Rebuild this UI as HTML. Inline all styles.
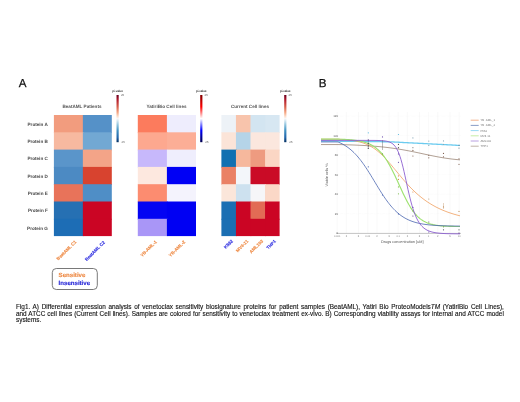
<!DOCTYPE html>
<html><head><meta charset="utf-8"><style>
html,body{margin:0;padding:0;background:#fff}
body{width:520px;height:402px;overflow:hidden;position:relative;font-family:"Liberation Sans",sans-serif}
svg text{font-family:"Liberation Sans",sans-serif;text-rendering:geometricPrecision}
svg,.cap{will-change:transform}
.cap{position:absolute;left:16px;top:303.7px;width:487.8px;font-size:6.4px;line-height:6.6px;color:#111;-webkit-text-stroke:0.12px #111}
.cap div{white-space:nowrap}
.cap .j{text-align:justify;text-align-last:justify;white-space:normal}
</style></head><body>
<svg width="520" height="402" viewBox="0 0 520 402" style="position:absolute;left:0;top:0">
<defs>
<linearGradient id="rdbu" x1="0" y1="0" x2="0" y2="1"><stop offset="0" stop-color="#67001f"/><stop offset="0.1" stop-color="#b2182b"/><stop offset="0.25" stop-color="#d6604d"/><stop offset="0.37" stop-color="#f4a582"/><stop offset="0.45" stop-color="#fddbc7"/><stop offset="0.5" stop-color="#f7f7f7"/><stop offset="0.55" stop-color="#d1e5f0"/><stop offset="0.63" stop-color="#92c5de"/><stop offset="0.75" stop-color="#4393c3"/><stop offset="0.9" stop-color="#2166ac"/><stop offset="1" stop-color="#053061"/></linearGradient>
<linearGradient id="seis" x1="0" y1="0" x2="0" y2="1"><stop offset="0" stop-color="#800000"/><stop offset="0.25" stop-color="#ff0000"/><stop offset="0.5" stop-color="#ffffff"/><stop offset="0.75" stop-color="#0000ff"/><stop offset="1" stop-color="#00004c"/></linearGradient>
</defs>
<text x="18.7" y="87.0" font-size="11.6" fill="#111" stroke="#111" stroke-width="0.25">A</text>
<text x="318.7" y="87.0" font-size="11.6" fill="#111" stroke="#111" stroke-width="0.25">B</text>
<rect x="53.90" y="115.00" width="29.75" height="18.10" fill="#f29c7e"/>
<rect x="82.85" y="115.00" width="28.95" height="18.10" fill="#5591c8"/>
<rect x="53.90" y="132.30" width="29.75" height="18.10" fill="#f7b9a0"/>
<rect x="82.85" y="132.30" width="28.95" height="18.10" fill="#72a8d3"/>
<rect x="53.90" y="149.60" width="29.75" height="18.10" fill="#5a95ca"/>
<rect x="82.85" y="149.60" width="28.95" height="18.10" fill="#f3a488"/>
<rect x="53.90" y="166.90" width="29.75" height="18.10" fill="#4c8ac3"/>
<rect x="82.85" y="166.90" width="28.95" height="18.10" fill="#d8432f"/>
<rect x="53.90" y="184.20" width="29.75" height="18.10" fill="#e8735a"/>
<rect x="82.85" y="184.20" width="28.95" height="18.10" fill="#4f8ec6"/>
<rect x="53.90" y="201.50" width="29.75" height="18.10" fill="#2670b3"/>
<rect x="82.85" y="201.50" width="28.95" height="18.10" fill="#cb0524"/>
<rect x="53.90" y="218.80" width="29.75" height="17.30" fill="#1d6db5"/>
<rect x="82.85" y="218.80" width="28.95" height="17.30" fill="#cb0524"/>
<rect x="137.80" y="115.00" width="29.90" height="18.10" fill="#fc7b5d"/>
<rect x="166.90" y="115.00" width="29.10" height="18.10" fill="#eeedfd"/>
<rect x="137.80" y="132.30" width="29.90" height="18.10" fill="#fda88f"/>
<rect x="166.90" y="132.30" width="29.10" height="18.10" fill="#fcae96"/>
<rect x="137.80" y="149.60" width="29.90" height="18.10" fill="#c7b8fb"/>
<rect x="166.90" y="149.60" width="29.10" height="18.10" fill="#efeefd"/>
<rect x="137.80" y="166.90" width="29.90" height="18.10" fill="#fde8df"/>
<rect x="166.90" y="166.90" width="29.10" height="18.10" fill="#0000f5"/>
<rect x="137.80" y="184.20" width="29.90" height="18.10" fill="#fc8c70"/>
<rect x="166.90" y="184.20" width="29.10" height="18.10" fill="#f4f3fd"/>
<rect x="137.80" y="201.50" width="29.90" height="18.10" fill="#0404f3"/>
<rect x="166.90" y="201.50" width="29.10" height="18.10" fill="#0000f3"/>
<rect x="137.80" y="218.80" width="29.90" height="17.30" fill="#a996f7"/>
<rect x="166.90" y="218.80" width="29.10" height="17.30" fill="#0000f3"/>
<rect x="221.40" y="115.00" width="15.35" height="18.10" fill="#edf2f7"/>
<rect x="235.95" y="115.00" width="15.35" height="18.10" fill="#f8c4ac"/>
<rect x="250.50" y="115.00" width="15.35" height="18.10" fill="#d3e5f1"/>
<rect x="265.05" y="115.00" width="14.55" height="18.10" fill="#d7e7f2"/>
<rect x="221.40" y="132.30" width="15.35" height="18.10" fill="#fbe4d8"/>
<rect x="235.95" y="132.30" width="15.35" height="18.10" fill="#b5d4e8"/>
<rect x="250.50" y="132.30" width="15.35" height="18.10" fill="#fbe7de"/>
<rect x="265.05" y="132.30" width="14.55" height="18.10" fill="#fbe7de"/>
<rect x="221.40" y="149.60" width="15.35" height="18.10" fill="#1170b1"/>
<rect x="235.95" y="149.60" width="15.35" height="18.10" fill="#f6b89d"/>
<rect x="250.50" y="149.60" width="15.35" height="18.10" fill="#ee9b80"/>
<rect x="265.05" y="149.60" width="14.55" height="18.10" fill="#fbd6c4"/>
<rect x="221.40" y="166.90" width="15.35" height="18.10" fill="#ea8165"/>
<rect x="235.95" y="166.90" width="15.35" height="18.10" fill="#f3f6fa"/>
<rect x="250.50" y="166.90" width="15.35" height="18.10" fill="#ca0b26"/>
<rect x="265.05" y="166.90" width="14.55" height="18.10" fill="#ca0b26"/>
<rect x="221.40" y="184.20" width="15.35" height="18.10" fill="#fbe6da"/>
<rect x="235.95" y="184.20" width="15.35" height="18.10" fill="#cde1ef"/>
<rect x="250.50" y="184.20" width="15.35" height="18.10" fill="#f6f6f8"/>
<rect x="265.05" y="184.20" width="14.55" height="18.10" fill="#fbd8c7"/>
<rect x="221.40" y="201.50" width="15.35" height="18.10" fill="#1b6fb3"/>
<rect x="235.95" y="201.50" width="15.35" height="18.10" fill="#cb0524"/>
<rect x="250.50" y="201.50" width="15.35" height="18.10" fill="#e26b55"/>
<rect x="265.05" y="201.50" width="14.55" height="18.10" fill="#cb0524"/>
<rect x="221.40" y="218.80" width="15.35" height="17.30" fill="#1b6fb3"/>
<rect x="235.95" y="218.80" width="15.35" height="17.30" fill="#cb0524"/>
<rect x="250.50" y="218.80" width="15.35" height="17.30" fill="#cb0524"/>
<rect x="265.05" y="218.80" width="14.55" height="17.30" fill="#cb0524"/>
<g font-weight="bold" font-size="4.6" fill="#555" text-anchor="middle">
<text x="82" y="107.6">BeatAML Patients</text>
<text x="166.5" y="107.6">YatiriBio Cell lines</text>
<text x="250" y="107.6">Current Cell lines</text>
</g>
<g font-weight="bold" font-size="4.6" fill="#484848" text-anchor="end">
<text x="47.8" y="125.75">Protein A</text>
<text x="47.8" y="143.05">Protein B</text>
<text x="47.8" y="160.35">Protein C</text>
<text x="47.8" y="177.65">Protein D</text>
<text x="47.8" y="194.95">Protein E</text>
<text x="47.8" y="212.25">Protein F</text>
<text x="47.8" y="229.55">Protein G</text>
</g>
<rect x="116.5" y="95" width="2.2" height="47.2" fill="url(#rdbu)"/>
<text x="117.6" y="91.6" font-size="3" fill="#333" stroke="#333" stroke-width="0.08" text-anchor="middle">pi-value</text>
<text x="120.9" y="95.8" font-size="2.8" fill="#444">25</text>
<text x="120.7" y="143.4" font-size="2.8" fill="#444">-25</text>
<rect x="200.2" y="95" width="2.2" height="47.2" fill="url(#seis)"/>
<text x="201.29999999999998" y="91.6" font-size="3" fill="#333" stroke="#333" stroke-width="0.08" text-anchor="middle">pi-value</text>
<text x="204.6" y="95.8" font-size="2.8" fill="#444">25</text>
<text x="204.39999999999998" y="143.4" font-size="2.8" fill="#444">-25</text>
<rect x="284.2" y="95" width="2.2" height="47.2" fill="url(#rdbu)"/>
<text x="285.3" y="91.6" font-size="3" fill="#333" stroke="#333" stroke-width="0.08" text-anchor="middle">pi-value</text>
<text x="288.59999999999997" y="95.8" font-size="2.8" fill="#444">25</text>
<text x="288.4" y="143.4" font-size="2.8" fill="#444">-25</text>
<text x="76.80" y="242.20" transform="rotate(-45 76.80 242.20)" font-size="4.45" font-weight="bold" fill="#ee8a45" stroke="#ee8a45" stroke-width="0.12" text-anchor="end">BeatAML C1</text>
<text x="105.20" y="242.80" transform="rotate(-45 105.20 242.80)" font-size="4.45" font-weight="bold" fill="#3030e0" stroke="#3030e0" stroke-width="0.12" text-anchor="end">BeatAML C2</text>
<text x="157.20" y="242.20" transform="rotate(-45 157.20 242.20)" font-size="4.45" font-weight="bold" fill="#ee8a45" stroke="#ee8a45" stroke-width="0.12" text-anchor="end">YB-AML-1</text>
<text x="185.60" y="242.20" transform="rotate(-45 185.60 242.20)" font-size="4.45" font-weight="bold" fill="#ee8a45" stroke="#ee8a45" stroke-width="0.12" text-anchor="end">YB-AML-2</text>
<text x="233.20" y="241.60" transform="rotate(-45 233.20 241.60)" font-size="4.45" font-weight="bold" fill="#3030e0" stroke="#3030e0" stroke-width="0.12" text-anchor="end">K562</text>
<text x="248.70" y="241.60" transform="rotate(-45 248.70 241.60)" font-size="4.45" font-weight="bold" fill="#ee8a45" stroke="#ee8a45" stroke-width="0.12" text-anchor="end">MV4-11</text>
<text x="263.40" y="241.60" transform="rotate(-45 263.40 241.60)" font-size="4.45" font-weight="bold" fill="#ee8a45" stroke="#ee8a45" stroke-width="0.12" text-anchor="end">AML193</text>
<text x="276.30" y="241.60" transform="rotate(-45 276.30 241.60)" font-size="4.45" font-weight="bold" fill="#3030e0" stroke="#3030e0" stroke-width="0.12" text-anchor="end">THP1</text>
<rect x="52.3" y="268.5" width="45" height="21" rx="4" ry="4" fill="#fff" stroke="#6a6a6a" stroke-width="0.9"/>
<text x="58.6" y="276.8" font-size="6.1" font-weight="bold" fill="#ee8a45" stroke="#ee8a45" stroke-width="0.15">Sensitive</text>
<text x="58.6" y="285.3" font-size="6.1" font-weight="bold" fill="#2a2ad8" stroke="#2a2ad8" stroke-width="0.15">Insensitive</text>
<line x1="340" x2="461" y1="213.75" y2="213.75" stroke="#f2f2f2" stroke-width="0.4" stroke-dasharray="0.6 0.6"/>
<line x1="340" x2="461" y1="194.20" y2="194.20" stroke="#f2f2f2" stroke-width="0.4" stroke-dasharray="0.6 0.6"/>
<line x1="340" x2="461" y1="174.65" y2="174.65" stroke="#f2f2f2" stroke-width="0.4" stroke-dasharray="0.6 0.6"/>
<line x1="340" x2="461" y1="155.10" y2="155.10" stroke="#f2f2f2" stroke-width="0.4" stroke-dasharray="0.6 0.6"/>
<line x1="340" x2="461" y1="135.55" y2="135.55" stroke="#f2f2f2" stroke-width="0.4" stroke-dasharray="0.6 0.6"/>
<line x1="340" x2="461" y1="116.00" y2="116.00" stroke="#f2f2f2" stroke-width="0.4" stroke-dasharray="0.6 0.6"/>
<line x1="337.20" x2="337.20" y1="112" y2="233.3" stroke="#f0f0f0" stroke-width="0.4"/>
<line x1="346.38" x2="346.38" y1="112" y2="233.3" stroke="#f0f0f0" stroke-width="0.4"/>
<line x1="358.52" x2="358.52" y1="112" y2="233.3" stroke="#f0f0f0" stroke-width="0.4"/>
<line x1="367.80" x2="367.80" y1="112" y2="233.3" stroke="#f0f0f0" stroke-width="0.4"/>
<line x1="376.98" x2="376.98" y1="112" y2="233.3" stroke="#f0f0f0" stroke-width="0.4"/>
<line x1="389.12" x2="389.12" y1="112" y2="233.3" stroke="#f0f0f0" stroke-width="0.4"/>
<line x1="398.20" x2="398.20" y1="112" y2="233.3" stroke="#f0f0f0" stroke-width="0.4"/>
<line x1="407.38" x2="407.38" y1="112" y2="233.3" stroke="#f0f0f0" stroke-width="0.4"/>
<line x1="419.52" x2="419.52" y1="112" y2="233.3" stroke="#f0f0f0" stroke-width="0.4"/>
<line x1="428.60" x2="428.60" y1="112" y2="233.3" stroke="#f0f0f0" stroke-width="0.4"/>
<line x1="437.78" x2="437.78" y1="112" y2="233.3" stroke="#f0f0f0" stroke-width="0.4"/>
<line x1="449.92" x2="449.92" y1="112" y2="233.3" stroke="#f0f0f0" stroke-width="0.4"/>
<line x1="459.20" x2="459.20" y1="112" y2="233.3" stroke="#f0f0f0" stroke-width="0.4"/>
<line x1="336.4" x2="461" y1="233.4" y2="233.4" stroke="#888" stroke-width="0.5"/>
<g font-size="3" fill="#666" text-anchor="end">
<text x="338.2" y="234.40">0</text>
<text x="338.2" y="214.85">20</text>
<text x="338.2" y="195.30">40</text>
<text x="338.2" y="175.75">60</text>
<text x="338.2" y="156.20">80</text>
<text x="338.2" y="136.65">100</text>
<text x="338.2" y="117.10">120</text>
</g>
<g font-size="2.6" fill="#888" text-anchor="middle">
<text x="337.20" y="236.6">0.001</text>
<text x="346.38" y="236.6">2</text>
<text x="358.52" y="236.6">5</text>
<text x="367.80" y="236.6">0.01</text>
<text x="376.98" y="236.6">2</text>
<text x="389.12" y="236.6">5</text>
<text x="398.20" y="236.6">0.1</text>
<text x="407.38" y="236.6">2</text>
<text x="419.52" y="236.6">5</text>
<text x="428.60" y="236.6">1</text>
<text x="437.78" y="236.6">2</text>
<text x="449.92" y="236.6">5</text>
<text x="459.20" y="236.6">10</text>
</g>
<text x="402.3" y="243.2" font-size="3.8" fill="#555" text-anchor="middle">Drugs concentration [uM]</text>
<text x="0" y="0" transform="translate(327.5 175) rotate(-90)" font-size="3.7" fill="#555" text-anchor="middle">Viable cells %</text>
<path d="M321.00 144.56 L338.00 144.56 L339.00 144.58 L340.00 144.60 L341.00 144.62 L342.00 144.65 L343.00 144.67 L344.00 144.70 L345.00 144.73 L346.00 144.76 L347.00 144.79 L348.00 144.82 L349.00 144.85 L350.00 144.88 L351.00 144.92 L352.00 144.95 L353.00 144.99 L354.00 145.03 L355.00 145.07 L356.00 145.11 L357.00 145.15 L358.00 145.20 L359.00 145.25 L360.00 145.29 L361.00 145.34 L362.00 145.40 L363.00 145.45 L364.00 145.50 L365.00 145.56 L366.00 145.62 L367.00 145.68 L368.00 145.75 L369.00 145.81 L370.00 145.88 L371.00 145.95 L372.00 146.03 L373.00 146.10 L374.00 146.18 L375.00 146.26 L376.00 146.34 L377.00 146.43 L378.00 146.52 L379.00 146.61 L380.00 146.71 L381.00 146.81 L382.00 146.91 L383.00 147.01 L384.00 147.12 L385.00 147.23 L386.00 147.34 L387.00 147.46 L388.00 147.58 L389.00 147.70 L390.00 147.83 L391.00 147.96 L392.00 148.10 L393.00 148.24 L394.00 148.38 L395.00 148.52 L396.00 148.67 L397.00 148.82 L398.00 148.98 L399.00 149.14 L400.00 149.30 L401.00 149.47 L402.00 149.64 L403.00 149.81 L404.00 149.99 L405.00 150.17 L406.00 150.35 L407.00 150.54 L408.00 150.73 L409.00 150.92 L410.00 151.11 L411.00 151.31 L412.00 151.51 L413.00 151.71 L414.00 151.92 L415.00 152.12 L416.00 152.33 L417.00 152.54 L418.00 152.75 L419.00 152.97 L420.00 153.18 L421.00 153.39 L422.00 153.61 L423.00 153.82 L424.00 154.04 L425.00 154.25 L426.00 154.47 L427.00 154.68 L428.00 154.89 L429.00 155.10 L430.00 155.31 L431.00 155.52 L432.00 155.72 L433.00 155.93 L434.00 156.13 L435.00 156.32 L436.00 156.52 L437.00 156.71 L438.00 156.90 L439.00 157.08 L440.00 157.26 L441.00 157.43 L442.00 157.60 L443.00 157.77 L444.00 157.93 L445.00 158.09 L446.00 158.24 L447.00 158.39 L448.00 158.53 L449.00 158.67 L450.00 158.80 L451.00 158.93 L452.00 159.05 L453.00 159.17 L454.00 159.28 L455.00 159.39 L456.00 159.49 L457.00 159.59 L458.00 159.68 L459.00 159.77 L460.00 159.86" fill="none" stroke="#9d8878" stroke-width="0.8" stroke-linejoin="round"/>
<path d="M321.00 141.00 L338.00 141.20 L339.00 141.22 L340.00 141.23 L341.00 141.24 L342.00 141.25 L343.00 141.26 L344.00 141.28 L345.00 141.29 L346.00 141.30 L347.00 141.31 L348.00 141.32 L349.00 141.34 L350.00 141.35 L351.00 141.36 L352.00 141.37 L353.00 141.38 L354.00 141.40 L355.00 141.41 L356.00 141.42 L357.00 141.43 L358.00 141.44 L359.00 141.46 L360.00 141.47 L361.00 141.48 L362.00 141.49 L363.00 141.50 L364.00 141.52 L365.00 141.53 L366.00 141.54 L367.00 141.55 L368.00 141.56 L369.00 141.58 L370.00 141.59 L371.00 141.60 L372.00 141.61 L373.00 141.62 L374.00 141.64 L375.00 141.65 L376.00 141.66 L377.00 141.67 L378.00 141.68 L379.00 141.70 L380.00 141.71 L381.00 141.72 L382.00 141.73 L383.00 141.74 L384.00 141.76 L385.00 141.77 L386.00 141.78 L387.00 141.79 L388.00 141.80 L389.00 141.82 L390.00 141.80 L391.00 141.85 L392.00 141.90 L393.00 141.96 L394.00 142.01 L395.00 142.06 L396.00 142.11 L397.00 142.16 L398.00 142.22 L399.00 142.27 L400.00 142.32 L401.00 142.37 L402.00 142.42 L403.00 142.48 L404.00 142.53 L405.00 142.58 L406.00 142.63 L407.00 142.68 L408.00 142.74 L409.00 142.79 L410.00 142.84 L411.00 142.89 L412.00 142.94 L413.00 143.00 L414.00 143.05 L415.00 143.10 L416.00 143.15 L417.00 143.20 L418.00 143.26 L419.00 143.31 L420.00 143.36 L421.00 143.41 L422.00 143.46 L423.00 143.52 L424.00 143.57 L425.00 143.62 L426.00 143.67 L427.00 143.72 L428.00 143.78 L429.00 143.83 L430.00 143.88 L431.00 143.93 L432.00 143.98 L433.00 144.04 L434.00 144.09 L435.00 144.14 L436.00 144.19 L437.00 144.24 L438.00 144.30 L439.00 144.35 L440.00 144.40 L441.00 144.45 L442.00 144.50 L443.00 144.56 L444.00 144.61 L445.00 144.66 L446.00 144.71 L447.00 144.76 L448.00 144.82 L449.00 144.87 L450.00 144.92 L451.00 144.97 L452.00 145.02 L453.00 145.08 L454.00 145.13 L455.00 145.18 L456.00 145.23 L457.00 145.28 L458.00 145.34 L459.00 145.39 L460.00 145.44" fill="none" stroke="#6ccbef" stroke-width="1.3" stroke-linejoin="round"/>
<path d="M321.00 139.23 L338.00 139.23 L339.00 139.28 L340.00 139.33 L341.00 139.38 L342.00 139.45 L343.00 139.51 L344.00 139.58 L345.00 139.66 L346.00 139.75 L347.00 139.84 L348.00 139.94 L349.00 140.05 L350.00 140.16 L351.00 140.29 L352.00 140.43 L353.00 140.58 L354.00 140.74 L355.00 140.92 L356.00 141.11 L357.00 141.32 L358.00 141.54 L359.00 141.78 L360.00 142.04 L361.00 142.32 L362.00 142.62 L363.00 142.95 L364.00 143.30 L365.00 143.67 L366.00 144.07 L367.00 144.50 L368.00 144.96 L369.00 145.45 L370.00 145.97 L371.00 146.52 L372.00 147.11 L373.00 147.73 L374.00 148.38 L375.00 149.08 L376.00 149.81 L377.00 150.58 L378.00 151.38 L379.00 152.22 L380.00 153.09 L381.00 154.01 L382.00 154.95 L383.00 155.93 L384.00 156.94 L385.00 157.98 L386.00 159.05 L387.00 160.15 L388.00 161.27 L389.00 162.41 L390.00 163.57 L391.00 164.75 L392.00 165.94 L393.00 167.14 L394.00 168.35 L395.00 169.57 L396.00 170.79 L397.00 172.01 L398.00 173.23 L399.00 174.44 L400.00 175.65 L401.00 176.85 L402.00 178.04 L403.00 179.22 L404.00 180.38 L405.00 181.53 L406.00 182.66 L407.00 183.77 L408.00 184.87 L409.00 185.94 L410.00 187.00 L411.00 188.04 L412.00 189.05 L413.00 190.04 L414.00 191.01 L415.00 191.96 L416.00 192.88 L417.00 193.79 L418.00 194.67 L419.00 195.53 L420.00 196.36 L421.00 197.18 L422.00 197.97 L423.00 198.74 L424.00 199.49 L425.00 200.22 L426.00 200.93 L427.00 201.62 L428.00 202.29 L429.00 202.94 L430.00 203.57 L431.00 204.19 L432.00 204.78 L433.00 205.36 L434.00 205.92 L435.00 206.47 L436.00 207.00 L437.00 207.51 L438.00 208.01 L439.00 208.49 L440.00 208.96 L441.00 209.41 L442.00 209.85 L443.00 210.28 L444.00 210.69 L445.00 211.09 L446.00 211.48 L447.00 211.86 L448.00 212.22 L449.00 212.58 L450.00 212.92 L451.00 213.25 L452.00 213.57 L453.00 213.89 L454.00 214.19 L455.00 214.48 L456.00 214.77 L457.00 215.04 L458.00 215.31 L459.00 215.57 L460.00 215.82" fill="none" stroke="#f0a060" stroke-width="0.8" stroke-linejoin="round"/>
<path d="M321.00 139.15 L338.00 139.15 L339.00 139.18 L340.00 139.21 L341.00 139.24 L342.00 139.28 L343.00 139.32 L344.00 139.37 L345.00 139.42 L346.00 139.47 L347.00 139.53 L348.00 139.59 L349.00 139.66 L350.00 139.74 L351.00 139.83 L352.00 139.92 L353.00 140.02 L354.00 140.14 L355.00 140.26 L356.00 140.39 L357.00 140.54 L358.00 140.70 L359.00 140.88 L360.00 141.07 L361.00 141.29 L362.00 141.52 L363.00 141.77 L364.00 142.05 L365.00 142.35 L366.00 142.68 L367.00 143.03 L368.00 143.42 L369.00 143.85 L370.00 144.31 L371.00 144.81 L372.00 145.36 L373.00 145.95 L374.00 146.59 L375.00 147.28 L376.00 148.03 L377.00 148.84 L378.00 149.71 L379.00 150.64 L380.00 151.64 L381.00 152.72 L382.00 153.87 L383.00 155.10 L384.00 156.40 L385.00 157.78 L386.00 159.25 L387.00 160.79 L388.00 162.42 L389.00 164.12 L390.00 165.90 L391.00 167.75 L392.00 169.68 L393.00 171.66 L394.00 173.70 L395.00 175.79 L396.00 177.92 L397.00 180.08 L398.00 182.27 L399.00 184.46 L400.00 186.66 L401.00 188.84 L402.00 191.01 L403.00 193.14 L404.00 195.24 L405.00 197.28 L406.00 199.27 L407.00 201.18 L408.00 203.03 L409.00 204.80 L410.00 206.48 L411.00 208.08 L412.00 209.59 L413.00 211.01 L414.00 212.35 L415.00 213.59 L416.00 214.75 L417.00 215.83 L418.00 216.83 L419.00 217.75 L420.00 218.59 L421.00 219.36 L422.00 220.07 L423.00 220.72 L424.00 221.31 L425.00 221.84 L426.00 222.33 L427.00 222.77 L428.00 223.17 L429.00 223.53 L430.00 223.85 L431.00 224.14 L432.00 224.40 L433.00 224.64 L434.00 224.85 L435.00 225.04 L436.00 225.21 L437.00 225.36 L438.00 225.50 L439.00 225.62 L440.00 225.73 L441.00 225.83 L442.00 225.91 L443.00 225.99 L444.00 226.06 L445.00 226.12 L446.00 226.18 L447.00 226.23 L448.00 226.27 L449.00 226.31 L450.00 226.34 L451.00 226.37 L452.00 226.40 L453.00 226.42 L454.00 226.45 L455.00 226.47 L456.00 226.48 L457.00 226.50 L458.00 226.51 L459.00 226.52 L460.00 226.53" fill="none" stroke="#9ee270" stroke-width="1.15" stroke-linejoin="round"/>
<path d="M321.00 141.95 L338.00 141.95 L339.00 142.37 L340.00 142.82 L341.00 143.29 L342.00 143.80 L343.00 144.33 L344.00 144.90 L345.00 145.51 L346.00 146.15 L347.00 146.82 L348.00 147.53 L349.00 148.29 L350.00 149.08 L351.00 149.91 L352.00 150.79 L353.00 151.71 L354.00 152.68 L355.00 153.69 L356.00 154.75 L357.00 155.85 L358.00 157.00 L359.00 158.20 L360.00 159.44 L361.00 160.72 L362.00 162.05 L363.00 163.43 L364.00 164.84 L365.00 166.29 L366.00 167.78 L367.00 169.30 L368.00 170.85 L369.00 172.43 L370.00 174.03 L371.00 175.66 L372.00 177.30 L373.00 178.95 L374.00 180.61 L375.00 182.27 L376.00 183.94 L377.00 185.59 L378.00 187.24 L379.00 188.87 L380.00 190.49 L381.00 192.08 L382.00 193.64 L383.00 195.18 L384.00 196.68 L385.00 198.15 L386.00 199.57 L387.00 200.96 L388.00 202.30 L389.00 203.60 L390.00 204.86 L391.00 206.06 L392.00 207.22 L393.00 208.33 L394.00 209.39 L395.00 210.41 L396.00 211.37 L397.00 212.29 L398.00 213.17 L399.00 214.00 L400.00 214.78 L401.00 215.53 L402.00 216.23 L403.00 216.89 L404.00 217.51 L405.00 218.10 L406.00 218.65 L407.00 219.17 L408.00 219.65 L409.00 220.11 L410.00 220.54 L411.00 220.93 L412.00 221.31 L413.00 221.65 L414.00 221.98 L415.00 222.28 L416.00 222.57 L417.00 222.83 L418.00 223.07 L419.00 223.30 L420.00 223.52 L421.00 223.71 L422.00 223.90 L423.00 224.07 L424.00 224.23 L425.00 224.37 L426.00 224.51 L427.00 224.64 L428.00 224.76 L429.00 224.86 L430.00 224.97 L431.00 225.06 L432.00 225.15 L433.00 225.23 L434.00 225.30 L435.00 225.37 L436.00 225.43 L437.00 225.49 L438.00 225.55 L439.00 225.60 L440.00 225.65 L441.00 225.69 L442.00 225.73 L443.00 225.77 L444.00 225.80 L445.00 225.84 L446.00 225.86 L447.00 225.89 L448.00 225.92 L449.00 225.94 L450.00 225.96 L451.00 225.98 L452.00 226.00 L453.00 226.02 L454.00 226.03 L455.00 226.05 L456.00 226.06 L457.00 226.07 L458.00 226.09 L459.00 226.10 L460.00 226.11" fill="none" stroke="#4a66b0" stroke-width="0.8" stroke-linejoin="round"/>
<path d="M321.00 140.39 L338.00 140.39 L339.00 140.39 L340.00 140.39 L341.00 140.39 L342.00 140.39 L343.00 140.39 L344.00 140.39 L345.00 140.39 L346.00 140.39 L347.00 140.39 L348.00 140.39 L349.00 140.39 L350.00 140.39 L351.00 140.39 L352.00 140.39 L353.00 140.39 L354.00 140.39 L355.00 140.39 L356.00 140.39 L357.00 140.39 L358.00 140.39 L359.00 140.39 L360.00 140.39 L361.00 140.39 L362.00 140.39 L363.00 140.39 L364.00 140.39 L365.00 140.39 L366.00 140.40 L367.00 140.40 L368.00 140.40 L369.00 140.40 L370.00 140.41 L371.00 140.41 L372.00 140.42 L373.00 140.42 L374.00 140.43 L375.00 140.44 L376.00 140.46 L377.00 140.47 L378.00 140.50 L379.00 140.53 L380.00 140.56 L381.00 140.61 L382.00 140.67 L383.00 140.75 L384.00 140.84 L385.00 140.96 L386.00 141.11 L387.00 141.31 L388.00 141.55 L389.00 141.86 L390.00 142.25 L391.00 142.73 L392.00 143.34 L393.00 144.09 L394.00 145.02 L395.00 146.17 L396.00 147.57 L397.00 149.27 L398.00 151.30 L399.00 153.70 L400.00 156.49 L401.00 159.68 L402.00 163.26 L403.00 167.19 L404.00 171.42 L405.00 175.86 L406.00 180.43 L407.00 185.03 L408.00 189.55 L409.00 193.93 L410.00 198.09 L411.00 201.98 L412.00 205.57 L413.00 208.86 L414.00 211.83 L415.00 214.50 L416.00 216.88 L417.00 218.99 L418.00 220.86 L419.00 222.51 L420.00 223.96 L421.00 225.23 L422.00 226.34 L423.00 227.31 L424.00 228.16 L425.00 228.90 L426.00 229.54 L427.00 230.10 L428.00 230.59 L429.00 231.02 L430.00 231.39 L431.00 231.72 L432.00 232.00 L433.00 232.24 L434.00 232.45 L435.00 232.64 L436.00 232.80 L437.00 232.94 L438.00 233.06 L439.00 233.17 L440.00 233.26 L441.00 233.34 L442.00 233.41 L443.00 233.47 L444.00 233.53 L445.00 233.57 L446.00 233.61 L447.00 233.65 L448.00 233.68 L449.00 233.70 L450.00 233.73 L451.00 233.75 L452.00 233.76 L453.00 233.78 L454.00 233.79 L455.00 233.80 L456.00 233.81 L457.00 233.82 L458.00 233.83 L459.00 233.84 L460.00 233.84" fill="none" stroke="#8c60d0" stroke-width="0.9" stroke-linejoin="round"/>
<circle cx="368.3" cy="132.8" r="0.6" fill="#58b8e0"/>
<circle cx="368.3" cy="139.9" r="0.6" fill="#7050b0"/>
<circle cx="368.3" cy="143.4" r="0.6" fill="#555"/>
<circle cx="368.3" cy="145.9" r="0.6" fill="#555"/>
<circle cx="368.3" cy="148.4" r="0.6" fill="#555"/>
<circle cx="368.3" cy="166.8" r="0.6" fill="#4a66b0"/>
<circle cx="382.5" cy="136.9" r="0.6" fill="#7050b0"/>
<circle cx="382.5" cy="153.9" r="0.6" fill="#70a040"/>
<circle cx="382.5" cy="195" r="0.6" fill="#4a66b0"/>
<circle cx="398.5" cy="134.5" r="0.6" fill="#58b8e0"/>
<circle cx="398.5" cy="144.4" r="0.6" fill="#555"/>
<circle cx="398.5" cy="147.7" r="0.6" fill="#555"/>
<circle cx="398.5" cy="153.9" r="0.6" fill="#7050b0"/>
<circle cx="398.5" cy="162.3" r="0.6" fill="#7050b0"/>
<circle cx="398.5" cy="175.9" r="0.6" fill="#e09050"/>
<circle cx="398.5" cy="179.4" r="0.6" fill="#e09050"/>
<circle cx="398.5" cy="186.9" r="0.6" fill="#80c050"/>
<circle cx="398.5" cy="193.8" r="0.6" fill="#80c050"/>
<circle cx="398.5" cy="213.9" r="0.6" fill="#4a66b0"/>
<circle cx="412.9" cy="137.9" r="0.6" fill="#88a8b8"/>
<circle cx="412.9" cy="147.7" r="0.6" fill="#888"/>
<circle cx="412.9" cy="150.4" r="0.6" fill="#806050"/>
<circle cx="412.9" cy="156" r="0.6" fill="#806050"/>
<circle cx="412.9" cy="192" r="0.6" fill="#e09050"/>
<circle cx="412.9" cy="207.4" r="0.6" fill="#7050b0"/>
<circle cx="412.9" cy="216" r="0.6" fill="#604080"/>
<circle cx="412.9" cy="211" r="0.6" fill="#70a040"/>
<circle cx="428.8" cy="141.1" r="0.6" fill="#88a8b8"/>
<circle cx="428.8" cy="145.4" r="0.6" fill="#88a8b8"/>
<circle cx="428.8" cy="155.3" r="0.6" fill="#806050"/>
<circle cx="428.8" cy="157.8" r="0.6" fill="#806050"/>
<circle cx="428.8" cy="199" r="0.6" fill="#c0a080"/>
<circle cx="428.8" cy="222" r="0.6" fill="#507040"/>
<circle cx="428.8" cy="232" r="0.6" fill="#7050b0"/>
<circle cx="443.5" cy="140.9" r="0.6" fill="#88a8b8"/>
<circle cx="443.5" cy="144.4" r="0.6" fill="#88a8b8"/>
<circle cx="443.5" cy="153.4" r="0.6" fill="#806050"/>
<circle cx="443.5" cy="156.8" r="0.6" fill="#806050"/>
<circle cx="443.5" cy="206.9" r="0.6" fill="#c09060"/>
<circle cx="443.5" cy="226.8" r="0.6" fill="#70a040"/>
<circle cx="443.5" cy="229.8" r="0.6" fill="#405060"/>
<circle cx="459.0" cy="145.4" r="0.6" fill="#708898"/>
<circle cx="459.0" cy="148.1" r="0.6" fill="#708898"/>
<circle cx="459.0" cy="158.8" r="0.6" fill="#806050"/>
<circle cx="459.0" cy="164.3" r="0.6" fill="#806050"/>
<circle cx="459.0" cy="211.4" r="0.6" fill="#c09060"/>
<circle cx="459.0" cy="229.8" r="0.6" fill="#506050"/>
<circle cx="459.0" cy="233" r="0.6" fill="#503070"/>
<g stroke="#555" stroke-width="0.4">
<line x1="368.3" x2="368.3" y1="139.5" y2="148.8"/>
<line x1="382.5" x2="382.5" y1="140.2" y2="150"/>
<line x1="443.5" x2="443.5" y1="203" y2="209" stroke="#c09060"/>
</g>
<line x1="470.7" x2="478.7" y1="120.20" y2="120.20" stroke="#efa070" stroke-width="0.8"/>
<text x="480.4" y="121.20" font-size="2.9" fill="#777">YB_AML_1</text>
<line x1="470.7" x2="478.7" y1="125.40" y2="125.40" stroke="#6a84b8" stroke-width="0.8"/>
<text x="480.4" y="126.40" font-size="2.9" fill="#777">YB_AML_2</text>
<line x1="470.7" x2="478.7" y1="130.60" y2="130.60" stroke="#7ccff0" stroke-width="0.8"/>
<text x="480.4" y="131.60" font-size="2.9" fill="#777">K562</text>
<line x1="470.7" x2="478.7" y1="135.80" y2="135.80" stroke="#b8e890" stroke-width="0.8"/>
<text x="480.4" y="136.80" font-size="2.9" fill="#777">MV4-11</text>
<line x1="470.7" x2="478.7" y1="141.00" y2="141.00" stroke="#a888d8" stroke-width="0.8"/>
<text x="480.4" y="142.00" font-size="2.9" fill="#777">AML193</text>
<line x1="470.7" x2="478.7" y1="146.20" y2="146.20" stroke="#b0a090" stroke-width="0.8"/>
<text x="480.4" y="147.20" font-size="2.9" fill="#777">THP1</text>
</svg>
<div class="cap"><div class="j">Fig1. A) Differential expression analysis of venetoclax sensitivity biosignature proteins for patient samples (BeatAML), Yatiri Bio ProteoModels<i>TM</i> (YatiriBio Cell Lines),</div><div class="j">and ATCC cell lines (Current Cell lines). Samples are colored for sensitivity to venetoclax treatment ex-vivo. B) Corresponding viability assays for internal and ATCC model</div><div>systems.</div></div>
</body></html>
